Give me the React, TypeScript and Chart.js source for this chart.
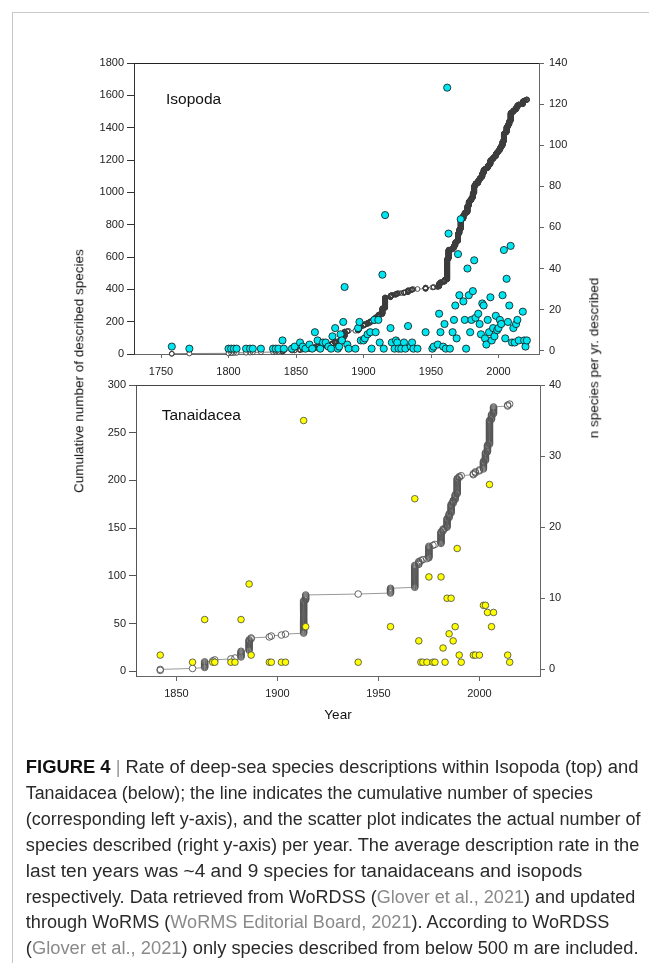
import React, { useEffect, useRef } from 'react';
import { Chart, registerables } from 'chart.js';

Chart.register(...registerables);

// ---------- Isopoda (top panel): species described per year ----------
const isoYears = [
  1758, 1771, 1800, 1802, 1804, 1806, 1813, 1816, 1818, 1824,
  1833, 1835, 1837, 1840, 1841, 1847, 1849, 1853, 1855, 1857,
  1860, 1862, 1864, 1866, 1868, 1870, 1872, 1874, 1876, 1877,
  1879, 1881, 1882, 1883, 1884, 1885, 1886, 1888, 1889, 1894,
  1896, 1897, 1898, 1900, 1901, 1903, 1905, 1906, 1908, 1909,
  1911, 1912, 1914, 1915, 1916, 1920, 1921, 1923, 1924, 1925,
  1926, 1928, 1930, 1931, 1933, 1935, 1936, 1937, 1940, 1946,
  1951, 1952, 1955, 1956, 1957, 1959, 1960, 1961, 1962, 1963,
  1964, 1966, 1967, 1968, 1969, 1970, 1971, 1972, 1974, 1975,
  1976, 1977, 1978, 1979, 1980, 1981, 1982, 1983, 1985, 1986,
  1987, 1988, 1989, 1990, 1991, 1992, 1993, 1994, 1995, 1996,
  1997, 1998, 1999, 2000, 2001, 2002, 2003, 2004, 2005, 2006,
  2007, 2008, 2009, 2010, 2011, 2012, 2013, 2014, 2015, 2018,
  2019, 2020, 2021,
];
const isoCounts = [
  2, 1, 1, 1, 1, 1, 1, 1, 1, 1,
  1, 1, 1, 5, 1, 1, 2, 4, 2, 1,
  3, 1, 9, 5, 1, 4, 4, 2, 1, 7,
  11, 1, 2, 8, 5, 14, 31, 3, 1, 1,
  11, 14, 5, 5, 6, 8, 9, 1, 15, 9,
  15, 4, 37, 1, 66, 11, 4, 1, 5, 4,
  1, 1, 4, 1, 12, 2, 4, 1, 1, 9,
  1, 2, 3, 18, 9, 2, 13, 1, 128, 57,
  1, 9, 15, 22, 6, 47, 27, 64, 24, 15,
  1, 40, 27, 9, 15, 29, 44, 16, 18, 13,
  8, 23, 22, 6, 3, 15, 9, 26, 5, 11,
  7, 17, 10, 11, 15, 13, 27, 49, 6, 35,
  14, 22, 51, 4, 11, 4, 13, 15, 5, 19,
  5, 2, 5,
];

// ---------- Tanaidacea (bottom panel): species described per year ----------
const tanYears = [
  1842, 1858, 1864, 1868, 1869, 1877, 1879, 1882, 1886, 1887,
  1896, 1897, 1902, 1904, 1913, 1914, 1940, 1956, 1968, 1970,
  1971, 1972, 1974, 1975, 1977, 1978, 1981, 1982, 1983, 1984,
  1985, 1986, 1987, 1988, 1989, 1990, 1991, 1997, 1998, 2000,
  2002, 2003, 2004, 2005, 2006, 2007, 2014, 2015,
];
const tanCounts = [
  2, 1, 7, 1, 1, 1, 1, 7, 12, 2,
  1, 1, 1, 1, 35, 6, 1, 6, 24, 4,
  1, 1, 1, 13, 1, 1, 13, 3, 1, 10,
  5, 10, 4, 6, 17, 2, 1, 2, 2, 2,
  9, 9, 8, 26, 6, 8, 2, 1,
];

// ---------- tick labels ----------
const isoLeftTicks = [0, 200, 400, 600, 800, 1000, 1200, 1400, 1600, 1800];
const isoRightTicks = [0, 20, 40, 60, 80, 100, 120, 140];
const isoXTicks = [1750, 1800, 1850, 1900, 1950, 2000];
const tanLeftTicks = [0, 50, 100, 150, 200, 250, 300];
const tanRightTicks = [0, 10, 20, 30, 40];
const tanXTicks = [1850, 1900, 1950, 2000];

const FONT = "'Liberation Sans', Arial, Helvetica, sans-serif";

// one point per described species, stacked at its year (cumulative count)
function cumulativePoints(years: number[], counts: number[]) {
  const pts: { x: number; y: number }[] = [];
  let c = 0;
  years.forEach((yr, i) => {
    for (let k = 0; k < counts[i]; k++) {
      c += 1;
      pts.push({ x: yr, y: c });
    }
  });
  return pts;
}

const topLinePlugin = {
  id: 'topLine',
  afterDatasetsDraw(chart: any, _args: any, opts: any) {
    const { ctx, chartArea } = chart;
    ctx.save();
    ctx.strokeStyle = opts.color || '#222';
    ctx.lineWidth = 1;
    ctx.beginPath();
    ctx.moveTo(chartArea.left, chartArea.top + 0.5);
    ctx.lineTo(chartArea.right, chartArea.top + 0.5);
    ctx.stroke();
    ctx.restore();
  },
};

function buildConfig(p: any) {
  const cum = cumulativePoints(p.years, p.counts);
  const scatter = p.years.map((yr: number, i: number) => ({ x: yr, y: p.counts[i] }));
  const tickFont = { family: FONT, size: 11 };
  const plain = (v: any) => String(v);
  const mkTicks = (vals: number[]) => (scale: any) => {
    scale.ticks = vals.map((v) => ({ value: v }));
  };
  return {
    type: 'scatter',
    data: {
      datasets: [
        {
          data: scatter,
          yAxisID: 'y2',
          showLine: false,
          pointRadius: p.scatterR,
          pointBackgroundColor: p.scatterColor,
          pointBorderColor: p.scatterBorder,
          pointBorderWidth: 0.8,
          order: 0,
          clip: false,
        },
        {
          data: cum,
          yAxisID: 'y',
          showLine: false,
          pointRadius: p.cumR,
          pointBackgroundColor: 'rgba(255,255,255,0)',
          pointBorderColor: p.ringColor,
          pointBorderWidth: 0.9,
          order: 1,
          clip: false,
        },
        {
          data: cum,
          yAxisID: 'y',
          showLine: true,
          borderColor: p.lineColor,
          borderWidth: 1,
          pointRadius: p.cumR,
          pointBackgroundColor: '#ffffff',
          pointBorderWidth: 0,
          order: 2,
          clip: false,
        },
      ],
    },
    options: {
      responsive: false,
      animation: false,
      events: [],
      layout: { padding: { top: p.padTop, left: 0, right: 0, bottom: 0 } },
      plugins: { legend: { display: false }, tooltip: { enabled: false }, topLine: { color: p.topColor } },
      scales: {
        x: {
          type: 'linear',
          min: p.xMin,
          max: p.xMax,
          afterBuildTicks: mkTicks(p.xTicks),
          afterFit: (s: any) => { s.height = p.xHeight; },
          grid: { display: true, drawOnChartArea: false, drawTicks: true, tickLength: p.xTickLen, color: p.axisColor },
          border: { display: true, color: p.axisColor, width: 1 },
          ticks: { font: tickFont, color: '#222', padding: p.xPad, maxRotation: 0, autoSkip: false, callback: plain },
        },
        y: {
          type: 'linear',
          position: 'left',
          min: p.yMin,
          max: p.yMax,
          afterBuildTicks: mkTicks(p.yTicks),
          afterFit: (s: any) => { s.width = p.leftW; },
          grid: { display: true, drawOnChartArea: false, drawTicks: true, tickLength: 7, color: p.leftColor },
          border: { display: true, color: p.leftColor, width: 1 },
          ticks: { font: tickFont, color: '#222', padding: 3, callback: plain },
        },
        y2: {
          type: 'linear',
          position: 'right',
          min: p.y2Min,
          max: p.y2Max,
          afterBuildTicks: mkTicks(p.y2Ticks),
          afterFit: (s: any) => { s.width = p.rightW; },
          grid: { display: true, drawOnChartArea: false, drawTicks: true, tickLength: 5, color: p.axisColor },
          border: { display: true, color: p.axisColor, width: 1 },
          ticks: { font: tickFont, color: '#222', padding: p.rightPad, callback: plain },
        },
      },
    },
    plugins: [topLinePlugin],
  } as any;
}

const abs = (o: any) => ({ position: 'absolute' as const, ...o });

export default function App() {
  const topRef = useRef<HTMLCanvasElement>(null);
  const botRef = useRef<HTMLCanvasElement>(null);

  useEffect(() => {
    const c1 = new Chart(
      topRef.current!,
      buildConfig({
        years: isoYears, counts: isoCounts,
        xMin: 1730, xMax: 2030, xTicks: isoXTicks,
        yMin: 0, yMax: 1800, yTicks: isoLeftTicks,
        y2Min: -1.6, y2Max: 140, y2Ticks: isoRightTicks,
        padTop: 63, leftW: 134, rightW: 110, xHeight: 31,
        xTickLen: 4, xPad: 7, rightPad: 5,
        scatterR: 3.6, scatterColor: '#00e6f0', scatterBorder: '#111',
        cumR: 2.4, ringColor: '#3c3c3c', lineColor: '#808080',
        axisColor: '#666', leftColor: '#333', topColor: '#222',
      })
    );
    const c2 = new Chart(
      botRef.current!,
      buildConfig({
        years: tanYears, counts: tanCounts,
        xMin: 1830, xMax: 2030, xTicks: tanXTicks,
        yMin: -4.9, yMax: 300, yTicks: tanLeftTicks,
        y2Min: -0.94, y2Max: 40, y2Ticks: tanRightTicks,
        padTop: 15, leftW: 136, rightW: 109, xHeight: 74,
        xTickLen: 5, xPad: 6, rightPad: 4,
        scatterR: 3.3, scatterColor: '#ffff00', scatterBorder: '#444',
        cumR: 3.3, ringColor: '#555', lineColor: '#999',
        axisColor: '#666', leftColor: '#555', topColor: '#444',
      })
    );
    return () => {
      c1.destroy();
      c2.destroy();
    };
  }, []);

  const gray = '#8a8a8a';
  const dark = '#2a2a2a';
  const capX = 25.8;
  const base0 = 773;
  const lh = 25.9;
  const capStyle = { fontFamily: FONT, fontSize: 18 } as any;

  return (
    <div style={abs({ left: 0, top: 0, width: 649, height: 963, background: '#fff', overflow: 'hidden', fontFamily: FONT })}>
      <div style={abs({ left: 12, top: 12, width: 800, height: 1100, border: '1px solid #c8c8c8' })} />
      <canvas ref={topRef} width={649} height={385} style={abs({ left: 0, top: 0 })} />
      <canvas ref={botRef} width={649} height={380} style={abs({ left: 0, top: 370 })} />

      <div style={abs({ left: 166, top: 90.7, fontSize: 15.5, lineHeight: '15.5px', color: '#111', whiteSpace: 'nowrap' })}>Isopoda</div>
      <div style={abs({ left: 161.7, top: 407.4, fontSize: 15.5, lineHeight: '15.5px', color: '#111', whiteSpace: 'nowrap' })}>Tanaidacea</div>

      <div style={abs({ left: 79, top: 371, width: 0, height: 0 })}>
        <div style={abs({ left: 0, top: 0, transform: 'translate(-50%, -50%) rotate(-90deg)', fontSize: 13.5, lineHeight: '13.5px', color: '#111', whiteSpace: 'nowrap' })}>
          Cumulative number of described species
        </div>
      </div>
      <div style={abs({ left: 593.5, top: 358, width: 0, height: 0 })}>
        <div style={abs({ left: 0, top: 0, transform: 'translate(-50%, -50%) rotate(-90deg)', fontSize: 13.5, lineHeight: '13.5px', color: '#111', whiteSpace: 'nowrap' })}>
          n species per yr. described
        </div>
      </div>
      <div style={abs({ left: 338, top: 715, width: 0, height: 0 })}>
        <div style={abs({ left: 0, top: 0, transform: 'translate(-50%, -50%)', fontSize: 13.5, lineHeight: '13.5px', color: '#111', whiteSpace: 'nowrap' })}>
          Year
        </div>
      </div>

      <svg width={649} height={963} style={abs({ left: 0, top: 0 })}>
        <g style={capStyle} fill={dark}>
          <text x={capX} y={base0} textLength={612.7} lengthAdjust="spacingAndGlyphs">
            <tspan fontWeight="bold" fill="#111">FIGURE 4</tspan>
            <tspan fill="#999"> | </tspan>
            <tspan>Rate of deep-sea species descriptions within Isopoda (top) and</tspan>
          </text>
          <text x={capX} y={base0 + lh} textLength={567} lengthAdjust="spacingAndGlyphs">
            Tanaidacea (below); the line indicates the cumulative number of species
          </text>
          <text x={capX} y={base0 + lh * 2} textLength={614.8} lengthAdjust="spacingAndGlyphs">
            (corresponding left y-axis), and the scatter plot indicates the actual number of
          </text>
          <text x={capX} y={base0 + lh * 3} textLength={613.6} lengthAdjust="spacingAndGlyphs">
            species described (right y-axis) per year. The average description rate in the
          </text>
          <text x={capX} y={base0 + lh * 4} textLength={556.6} lengthAdjust="spacingAndGlyphs">
            last ten years was ~4 and 9 species for tanaidaceans and isopods
          </text>
          <text x={capX} y={base0 + lh * 5} textLength={609.4} lengthAdjust="spacingAndGlyphs">
            <tspan>respectively. Data retrieved from WoRDSS (</tspan>
            <tspan fill={gray}>Glover et al., 2021</tspan>
            <tspan>) and updated</tspan>
          </text>
          <text x={capX} y={base0 + lh * 6} textLength={583.6} lengthAdjust="spacingAndGlyphs">
            <tspan>through WoRMS (</tspan>
            <tspan fill={gray}>WoRMS Editorial Board, 2021</tspan>
            <tspan>). According to WoRDSS</tspan>
          </text>
          <text x={capX} y={base0 + lh * 7} textLength={612.7} lengthAdjust="spacingAndGlyphs">
            <tspan>(</tspan>
            <tspan fill={gray}>Glover et al., 2021</tspan>
            <tspan>) only species described from below 500 m are included.</tspan>
          </text>
        </g>
      </svg>
    </div>
  );
}
